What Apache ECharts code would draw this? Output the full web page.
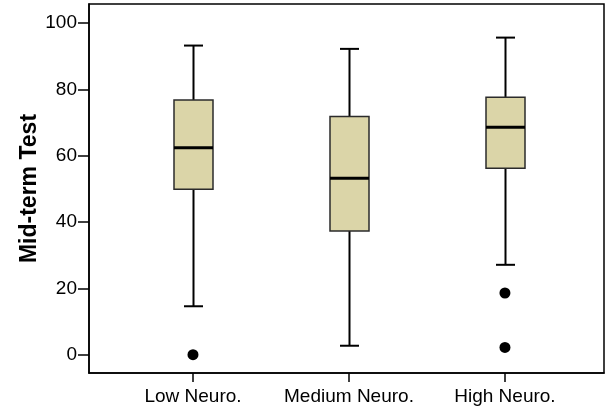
<!DOCTYPE html>
<html>
<head>
<meta charset="utf-8">
<script src="https://cdn.jsdelivr.net/npm/echarts@6/dist/echarts.min.js"></script>
<style>
  html, body { margin: 0; padding: 0; background: #fff; }
  #main { width: 611px; height: 413px; }
</style>
</head>
<body>
<div id="main"></div>
<script>
// groups along the x axis (placed at 1, 2, 3)
const categories = ['Low Neuro.', 'Medium Neuro.', 'High Neuro.']
// five-number summaries
const whiskerLow = [14.6, 2.7, 27.1]
const q1 = [49.9, 37.3, 56.2]
const medians = [62.4, 53.2, 68.6]
const q3 = [76.8, 71.8, 77.6]
const whiskerHigh = [93.2, 92.2, 95.6]
// outliers: [group position, score]
const outliers = [[1, 0], [3, 18.6], [3, 2.2]]
const yTicks = [0, 20, 40, 60, 80, 100]

const boxData = categories.map((c, i) => [i + 1, whiskerLow[i], q1[i], medians[i], q3[i], whiskerHigh[i]])

const chart = echarts.init(document.getElementById('main'))

// box + whiskers drawn by hand so the caps can be half the box width
function renderBox(params, api) {
  const x = api.value(0)
  const pMin = api.coord([x, api.value(1)])
  const pQ1 = api.coord([x, api.value(2)])
  const pMed = api.coord([x, api.value(3)])
  const pQ3 = api.coord([x, api.value(4)])
  const pMax = api.coord([x, api.value(5)])
  const half = 19.5
  const cap = 9.5
  const cx = Math.round(pMed[0]) + 0.5
  const line = { stroke: '#000', lineWidth: 2 }
  return {
    type: 'group',
    children: [
      { type: 'line', shape: { x1: cx, y1: pMax[1], x2: cx, y2: pQ3[1] }, style: line },
      { type: 'line', shape: { x1: cx, y1: pQ1[1], x2: cx, y2: pMin[1] }, style: line },
      { type: 'line', shape: { x1: cx - cap, y1: pMax[1], x2: cx + cap, y2: pMax[1] }, style: line },
      { type: 'line', shape: { x1: cx - cap, y1: pMin[1], x2: cx + cap, y2: pMin[1] }, style: line },
      {
        type: 'rect',
        shape: { x: cx - half, y: pQ3[1], width: half * 2, height: pQ1[1] - pQ3[1] },
        style: { fill: '#dbd5a8', stroke: '#2b2b2b', lineWidth: 1.5 }
      },
      { type: 'line', shape: { x1: cx - half, y1: pMed[1], x2: cx + half, y2: pMed[1] }, style: { stroke: '#000', lineWidth: 3 } }
    ]
  }
}

const option = {
  animation: false,
  backgroundColor: '#fff',
  grid: {
    left: 89,
    top: 4,
    right: 7,
    bottom: 40,
    show: true,
    borderColor: '#000',
    borderWidth: 1.5
  },
  xAxis: {
    type: 'value',
    min: 1 / 3,
    max: 3.635,
    splitLine: { show: false },
    axisLine: { show: true, onZero: false, lineStyle: { color: '#000', width: 1.5 } },
    axisTick: {
      show: true,
      customValues: [1, 2, 3],
      length: 9,
      lineStyle: { color: '#000', width: 1.5 }
    },
    axisLabel: {
      customValues: [1, 2, 3],
      formatter: v => categories[Math.round(v) - 1],
      color: '#000',
      fontFamily: 'Liberation Sans, Arial, sans-serif',
      fontSize: 19,
      margin: 14
    }
  },
  yAxis: {
    type: 'value',
    min: -5.52,
    max: 105.73,
    name: 'Mid-term Test',
    nameLocation: 'middle',
    nameGap: 48,
    nameMoveOverlap: false,
    nameTextStyle: {
      color: '#000',
      fontFamily: 'Liberation Sans, Arial, sans-serif',
      fontSize: 23,
      fontWeight: 'bold'
    },
    splitLine: { show: false },
    axisLine: { show: true, onZero: false, lineStyle: { color: '#000', width: 1.5 } },
    axisTick: {
      show: true,
      customValues: yTicks,
      length: 11,
      lineStyle: { color: '#000', width: 1.5 }
    },
    axisLabel: {
      customValues: yTicks,
      color: '#000',
      fontFamily: 'Liberation Sans, Arial, sans-serif',
      fontSize: 19,
      margin: 12
    }
  },
  series: [
    {
      type: 'custom',
      renderItem: renderBox,
      data: boxData,
      encode: { x: 0, y: [1, 2, 3, 4, 5] }
    },
    {
      type: 'scatter',
      data: outliers,
      symbol: 'circle',
      symbolSize: 11,
      itemStyle: { color: '#000', opacity: 1 }
    }
  ]
}

chart.setOption(option)
</script>
</body>
</html>
